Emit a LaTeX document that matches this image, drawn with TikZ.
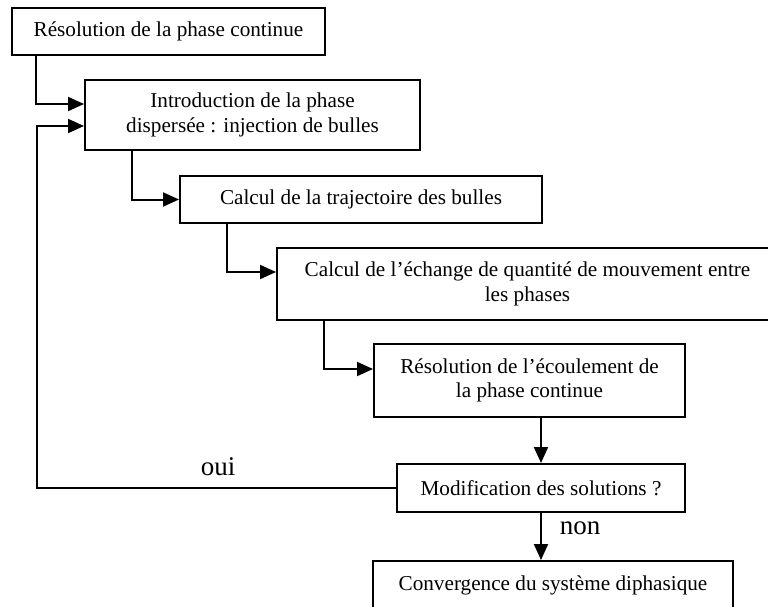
\documentclass[tikz,border=0pt]{standalone}
\usepackage{fontspec}
\setmainfont{Liberation Serif}
\usetikzlibrary{arrows.meta}
\tikzset{
  box/.style={draw, line width=2pt, inner sep=0pt, align=center,
    font=\fontsize{21.2}{24.5}\selectfont},
  arr/.style={line width=2pt, -{Triangle[length=16pt,width=14pt]}},
  lbl/.style={font=\fontsize{27}{30}\selectfont, inner sep=0pt},
}
\begin{document}
\begin{tikzpicture}[x=1pt,y=-1pt]
\useasboundingbox (0,0) rectangle (768,606);
\clip (0,0) rectangle (768,606);
\node[box, minimum width=313pt, minimum height=47pt] (b1) at (168.5,31.5) {Résolution de la phase continue};
\node[box, minimum width=335pt, minimum height=70pt] (b2) at (252.5,115) {Introduction de la phase\\dispersée : injection de bulles};
\node[box, minimum width=362pt, minimum height=47pt] (b3) at (361,199.5) {Calcul de la trajectoire des bulles};
\node[box, minimum width=501pt, minimum height=72pt] (b4) at (527.5,284) {Calcul de l’échange de quantité de mouvement entre\\les phases};
\node[box, minimum width=311pt, minimum height=73pt] (b5) at (529.5,380.5) {Résolution de l’écoulement de\\la phase continue};
\node[box, minimum width=288pt, minimum height=48pt] (b6) at (541,488) {Modification des solutions ?};
\node[box, minimum width=360pt, minimum height=48pt] (b7) at (553,585) {Convergence du système diphasique};
\node[lbl] (oui) at (218,467) {oui};
\node[lbl] (non) at (580,528) {non};
\coordinate (L) at (37,488);
\draw[arr] ([xshift=25pt]b1.south west) |- ([yshift=11pt]b2.west);
\draw[arr] (b6.west) -- (L) |- ([yshift=-11pt]b2.west);
\draw[arr] ([xshift=48pt]b2.south west) |- (b3.west);
\draw[arr] ([xshift=48pt]b3.south west) |- ([yshift=12pt]b4.west);
\draw[arr] ([xshift=48pt]b4.south west) |- ([yshift=11.5pt]b5.west);
\draw[arr] (b6.north |- b5.south) -- (b6.north);
\draw[arr] (b6.south) -- (b6.south |- b7.north);
\end{tikzpicture}
\end{document}
